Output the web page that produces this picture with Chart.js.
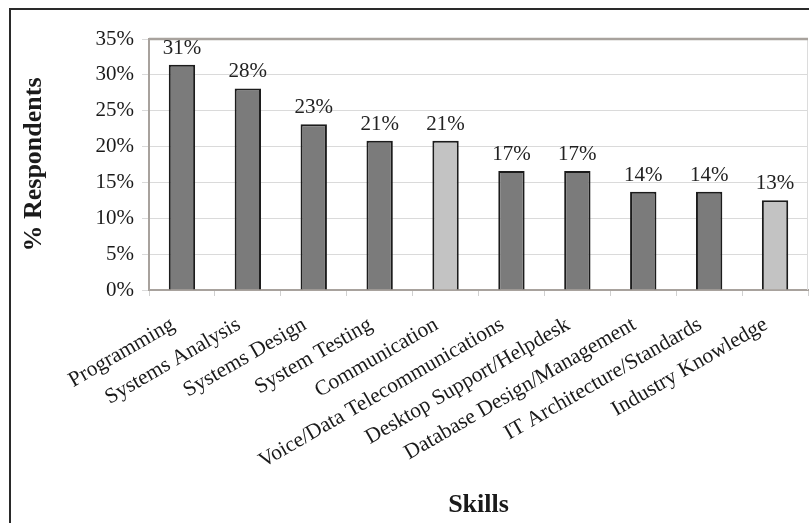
<!DOCTYPE html>
<html>
<head>
<meta charset="utf-8">
<script src="https://cdn.jsdelivr.net/npm/chart.js@4.4.1/dist/chart.umd.min.js"></script>
<style>
  html, body { margin: 0; padding: 0; background: #fff; overflow: hidden; }
  #wrap { position: relative; width: 809px; height: 523px; }
  #frame { position: absolute; left: 9px; top: 8px; width: 900px; height: 600px; border-left: 2px solid #2a2a2a; border-top: 2px solid #2a2a2a; box-sizing: border-box; }
  canvas { position: absolute; left: 0; top: 0; }
</style>
</head>
<body>
<div id="wrap">
  <div id="frame"></div>
  <canvas id="c" width="809" height="523"></canvas>
</div>
<script>
const categories = ["Programming", "Systems Analysis", "Systems Design", "System Testing", "Communication",
  "Voice/Data Telecommunications", "Desktop Support/Helpdesk", "Database Design/Management",
  "IT Architecture/Standards", "Industry Knowledge"];
const respondents = [31.4, 28.1, 23.1, 20.8, 20.8, 16.6, 16.6, 13.7, 13.7, 12.5];
const highlighted = [false, false, false, false, true, false, false, false, false, true];
const yTicks = [0, 5, 10, 15, 20, 25, 30, 35];

const DARK = '#7b7b7b', LIGHT = '#c3c3c3';
const SERIF = '"Liberation Serif", "Times New Roman", serif';

const plotFrame = {
  id: 'plotFrame',
  beforeDatasetsDraw(chart) {
    const {ctx, chartArea: a} = chart;
    ctx.save();
    ctx.strokeStyle = '#dcdcdc'; ctx.lineWidth = 1;
    ctx.beginPath(); ctx.moveTo(a.right - 0.5, a.top); ctx.lineTo(a.right - 0.5, a.bottom); ctx.stroke();
    ctx.strokeStyle = '#a8a29d'; ctx.lineWidth = 2.5;
    ctx.beginPath(); ctx.moveTo(a.left, a.top); ctx.lineTo(a.right, a.top); ctx.stroke();
    ctx.restore();
  }
};

const valueLabels = {
  id: 'valueLabels',
  afterDatasetsDraw(chart) {
    const {ctx} = chart;
    const meta = chart.getDatasetMeta(0);
    ctx.save();
    ctx.font = '21px ' + SERIF;
    ctx.fillStyle = '#222';
    ctx.textAlign = 'center';
    ctx.textBaseline = 'alphabetic';
    meta.data.forEach((bar, i) => {
      ctx.fillText(Math.round(respondents[i]) + '%', bar.x, bar.y - 11);
    });
    ctx.restore();
  }
};

new Chart(document.getElementById('c'), {
  type: 'bar',
  data: {
    labels: categories,
    datasets: [{
      data: respondents,
      backgroundColor: highlighted.map(h => h ? LIGHT : DARK),
      borderColor: '#1c1c1c',
      borderWidth: 2,
      categoryPercentage: 1.0,
      barPercentage: 0.4
    }]
  },
  options: {
    responsive: false,
    animation: false,
    events: [],
    layout: { padding: { top: 39, right: 1, left: 0, bottom: 0 } },
    plugins: { legend: { display: false }, tooltip: { enabled: false } },
    scales: {
      x: {
        grid: { display: true, drawOnChartArea: false, drawTicks: true, tickLength: 6, color: '#d0d0d0', offset: true },
        border: { display: true, color: '#a8a29d', width: 2 },
        ticks: {
          minRotation: 30, maxRotation: 30, autoSkip: false, padding: 16, labelOffset: -9,
          color: '#1a1a1a',
          font: { family: SERIF, size: 21.5 }
        },
        title: {
          display: true, text: 'Skills', color: '#1a1a1a',
          font: { family: SERIF, size: 26, weight: 'bold' },
          padding: { top: 0, bottom: 2 }
        },
        afterFit(scale) { scale.height = 233; }
      },
      y: {
        min: 0, max: 35,
        afterBuildTicks(scale) { scale.ticks = yTicks.map(v => ({ value: v })); },
        grid: { color: '#dadada', lineWidth: 1, tickLength: 7, drawTicks: true },
        border: { display: true, color: '#a8a29d', width: 2 },
        ticks: {
          padding: 8, color: '#1a1a1a',
          callback: v => v + '%',
          font: { family: SERIF, size: 21 }
        },
        title: {
          display: true, text: '% Respondents', color: '#1a1a1a',
          font: { family: SERIF, size: 26, weight: 'bold' },
          padding: { top: 19, bottom: 0 }
        },
        afterFit(scale) { scale.width = 149; }
      }
    }
  },
  plugins: [plotFrame, valueLabels]
});
</script>
</body>
</html>
